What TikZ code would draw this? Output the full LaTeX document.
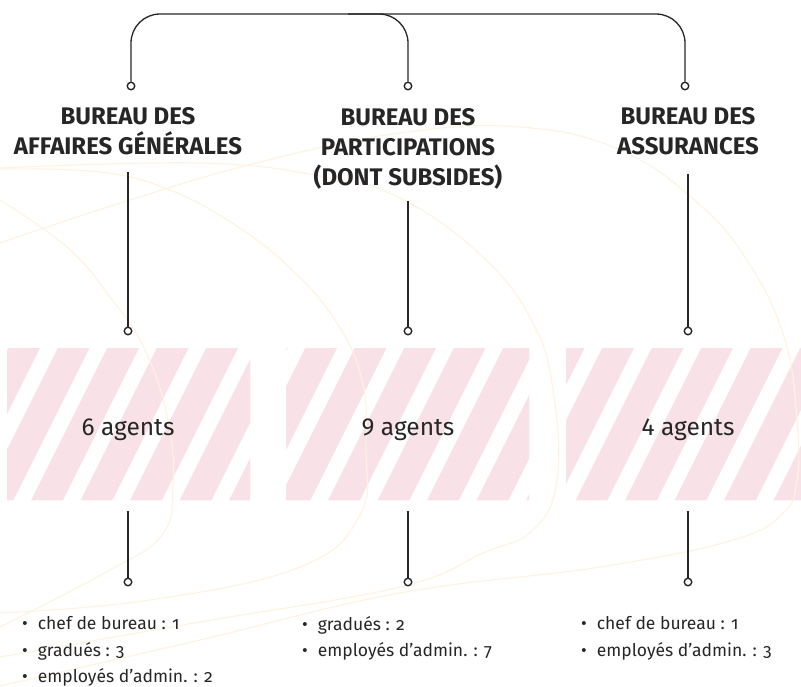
\documentclass[tikz,border=0pt]{standalone}
\usepackage{fontspec}
\setmainfont{Fira Sans}
\newfontfamily\corps[Numbers=OldStyle]{Fira Sans}
\usetikzlibrary{calc}
\definecolor{encre}{RGB}{38,38,38}
\definecolor{rose}{RGB}{248,226,231}
\definecolor{sable}{RGB}{254,242,224}
\newcommand{\puce}{\textbullet\hspace{10pt}}

\begin{document}
\begin{tikzpicture}[x=1pt, y=-1pt,
	trait/.style={draw=encre, line width=1.3pt},
	pastille/.style={circle, draw=encre, fill=white, line width=1.4pt, minimum size=7.5pt, inner sep=0pt},
	titre/.style={align=center, anchor=north, inner sep=0pt, text=encre, font=\bfseries\fontsize{24}{30}\selectfont},
	effectif/.style={anchor=base, inner sep=0pt, text=encre, font=\fontsize{24.5}{28}\selectfont},
	detail/.style={align=left, anchor=north west, inner sep=0pt, text=encre, font=\corps\fontsize{17.5}{26.2}\selectfont},
	bande/.style={anchor=north west, inner sep=0pt, minimum height=152pt},
	fil/.style={sable, line width=1.1pt}]
	\useasboundingbox (0,0) rectangle (801,686);

	\node[bande, minimum width=243pt] (g1) at (7,348) {};
	\node[bande, minimum width=243pt] (g2) at (286,348) {};
	\node[bande, minimum width=235pt] (g3) at (566,348) {};
	\begin{scope}
		\clip (g1.north west) rectangle (g1.south east) (g2.north west) rectangle (g2.south east) (g3.north west) rectangle (g3.south east);
		\foreach \k in {-2,...,17} {\fill[rose] ({12.2+49.5*\k},340) -- ++(31.8,0) -- ++(-85,170) -- ++(-31.8,0) -- cycle;}
	\end{scope}

	\draw[fil] plot[smooth, tension=0.7] coordinates {(0,200) (67,247) (110,297) (145,350) (168,420) (173,487) (162,535) (110,570) (0,627)};
	\draw[fil] plot[smooth, tension=0.7] coordinates {(0,169) (100,172) (170,190) (235,225) (290,268) (335,320) (362,380) (366,450) (360,515) (300,567) (150,600) (0,613)};
	\draw[fil] plot[smooth, tension=0.7] coordinates {(0,168) (200,163) (320,176) (400,198) (483,257) (533,323) (553,390) (557,480) (533,530) (483,553) (400,587) (200,622) (0,657)};
	\draw[fil] plot[smooth, tension=0.7] coordinates {(0,243) (130,200) (260,162) (400,133) (520,127) (620,150) (700,205) (750,265) (785,340) (797,420) (797,480) (783,513) (733,540) (600,567) (400,593) (200,640) (0,686)};

	\node[titre] (t1) at (128,107.5) {BUREAU DES\\AFFAIRES GÉNÉRALES};
	\node[titre] (t2) at (408,108.5) {BUREAU DES\\PARTICIPATIONS\\(DONT SUBSIDES)};
	\node[titre] (t3) at (688,107.5) {BUREAU DES\\ASSURANCES};

	\node[pastille] (h1) at (131,86) {};
	\node[pastille] (h2) at (408,86) {};
	\node[pastille] (h3) at (685,86) {};
	\node[pastille] (m1) at (128,331) {};
	\node[pastille] (m2) at (408,331) {};
	\node[pastille] (m3) at (688,331) {};
	\node[pastille] (b1) at (128,582) {};
	\node[pastille] (b2) at (408,582) {};
	\node[pastille] (b3) at (688,582) {};
	\coordinate (haut) at (0,14);

	\draw[trait, rounded corners=29pt] (h1) -- (h1 |- haut) -- (h3 |- haut) -- (h3);
	\draw[trait, rounded corners=29pt] ($(h2 |- haut)+(-60,0)$) -- (h2 |- haut) -- (h2);
	\draw[trait] ($(m1 |- t1.south)+(0,17)$) -- (m1);
	\draw[trait] ($(m2 |- t2.south)+(0,11)$) -- (m2);
	\draw[trait] ($(m3 |- t3.south)+(0,19)$) -- (m3);
	\draw[trait] ($(b1 |- g1.south)+(0,11)$) -- (b1);
	\draw[trait] ($(b2 |- g2.south)+(0,11)$) -- (b2);
	\draw[trait] ($(b3 |- g3.south)+(0,11)$) -- (b3);

	\node[effectif] (e1) at (128,435) {6 agents};
	\node[effectif] (e2) at (408,435) {9 agents};
	\node[effectif] (e3) at (688,435) {4 agents};

	\node[detail] (d1) at (22,616.5) {\puce chef de bureau : 1\\\puce gradués : 3\\\puce employés d’admin. : 2};
	\node[detail] (d2) at (302,616.5) {\puce gradués : 2\\\puce employés d’admin. : 7};
	\node[detail] (d3) at (581,616.5) {\puce chef de bureau : 1\\\puce employés d’admin. : 3};
\end{tikzpicture}
\end{document}
